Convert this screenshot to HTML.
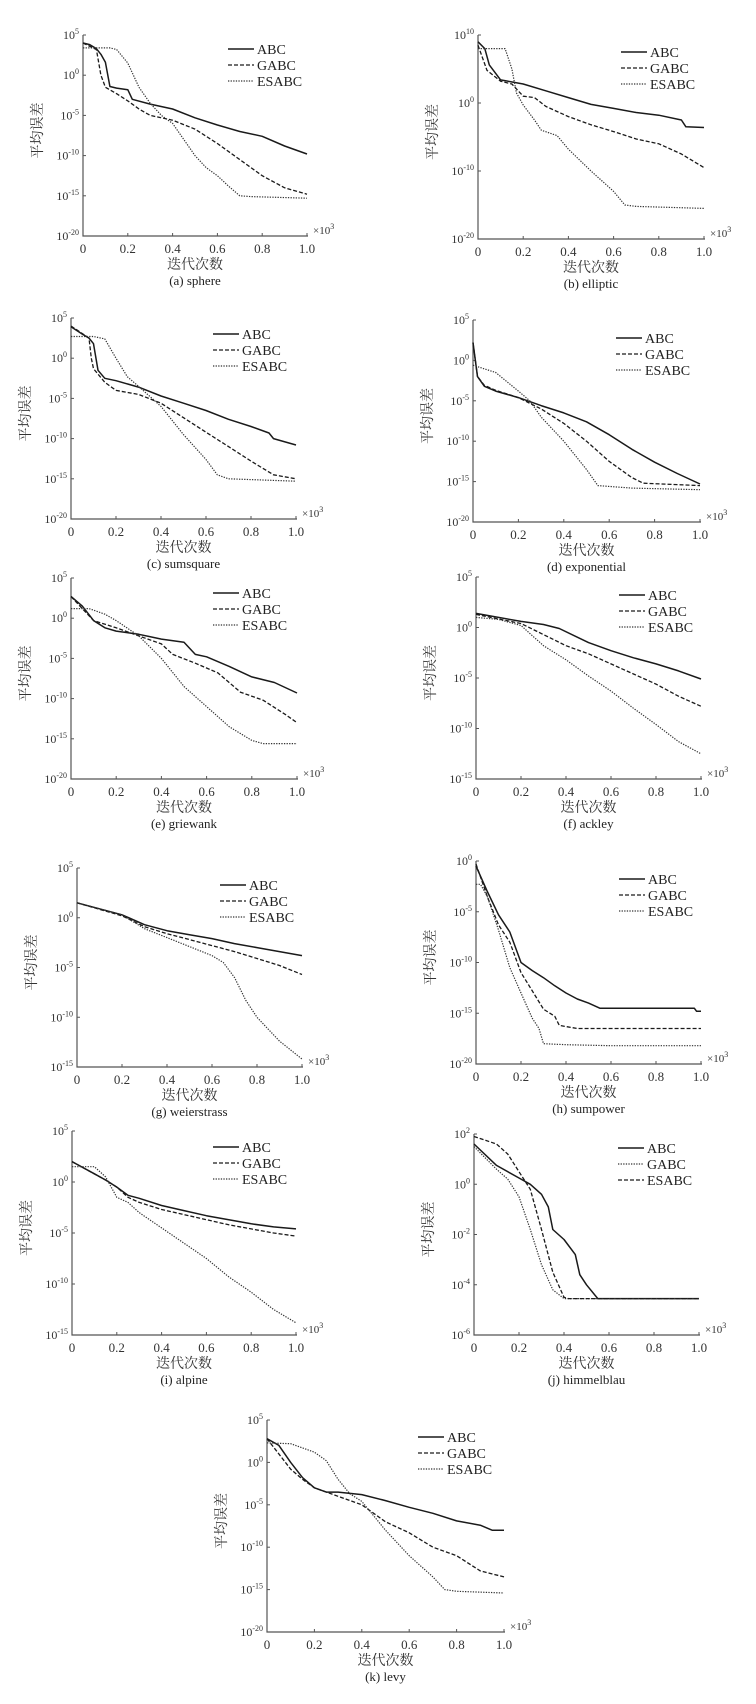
<!DOCTYPE html>
<html><head><meta charset="utf-8">
<style>
html,body{margin:0;padding:0;background:#fff;}
svg{display:block;font-family:"Liberation Serif","Noto Serif CJK SC","Noto Sans CJK SC",serif;}
</style></head>
<body>
<svg id="fig" width="756" height="1704" viewBox="0 0 756 1704" xmlns="http://www.w3.org/2000/svg"></svg>
<script>
// Data: [iteration (x10^3), log10(mean error)]
const sphereABC=[[0,4],[0.03,3.8],[0.06,3.3],[0.08,2.6],[0.1,1.6],[0.12,-1.4],[0.15,-1.6],[0.2,-1.8],[0.22,-3],[0.3,-3.6],[0.4,-4.2],[0.5,-5.3],[0.6,-6.2],[0.7,-7],[0.8,-7.6],[0.9,-8.8],[0.95,-9.3],[1.0,-9.8]];
const sphereGABC=[[0,4],[0.06,3.2],[0.08,0],[0.1,-1.5],[0.15,-2.3],[0.2,-3.2],[0.25,-4.2],[0.3,-5],[0.4,-5.6],[0.5,-6.7],[0.6,-8.5],[0.7,-10.5],[0.8,-12.5],[0.9,-14],[1.0,-14.8]];
const sphereESABC=[[0,3.4],[0.12,3.4],[0.15,3.2],[0.2,1.5],[0.25,-1.5],[0.3,-3.5],[0.35,-5],[0.4,-6],[0.45,-8],[0.5,-10],[0.55,-11.5],[0.6,-12.5],[0.65,-13.8],[0.7,-15],[0.75,-15.1],[1.0,-15.3]];

const ellipticABC=[[0,9],[0.03,8],[0.05,5.6],[0.1,3.4],[0.2,2.8],[0.3,1.8],[0.4,0.8],[0.5,-0.2],[0.6,-0.8],[0.7,-1.4],[0.8,-1.8],[0.9,-2.5],[0.92,-3.5],[1.0,-3.6]];
const ellipticGABC=[[0,8.5],[0.04,4.8],[0.1,3.2],[0.15,2.8],[0.2,1.0],[0.25,0.8],[0.3,-0.5],[0.4,-2],[0.5,-3.2],[0.6,-4.2],[0.7,-5.3],[0.8,-6],[0.9,-7.5],[1.0,-9.5]];
const ellipticESABC=[[0,8],[0.12,8],[0.15,5],[0.17,1.5],[0.2,-0.3],[0.25,-2.5],[0.28,-4],[0.35,-4.8],[0.4,-6.8],[0.5,-10],[0.6,-13],[0.65,-15],[0.7,-15.2],[1.0,-15.5]];

const sumsquareABC=[[0,3.9],[0.05,3],[0.08,2.5],[0.1,1.8],[0.12,-1.5],[0.15,-2.5],[0.2,-2.8],[0.3,-3.6],[0.4,-4.7],[0.5,-5.6],[0.6,-6.5],[0.7,-7.6],[0.8,-8.5],[0.88,-9.3],[0.9,-10],[1.0,-10.8]];
const sumsquareGABC=[[0,4],[0.08,2.5],[0.09,0],[0.1,-1.3],[0.15,-3],[0.2,-4],[0.3,-4.5],[0.4,-5.6],[0.5,-7.4],[0.6,-9.2],[0.7,-11],[0.8,-12.8],[0.9,-14.5],[1.0,-15]];
const sumsquareESABC=[[0,2.7],[0.1,2.7],[0.15,2.4],[0.2,0],[0.25,-2.3],[0.3,-3.5],[0.4,-6],[0.5,-9.5],[0.6,-12.6],[0.65,-14.5],[0.7,-15],[1.0,-15.3]];

const exponentialABC=[[0,2.2],[0.02,-2],[0.05,-3.2],[0.1,-3.8],[0.2,-4.6],[0.3,-5.6],[0.4,-6.5],[0.5,-7.6],[0.6,-9.2],[0.7,-11],[0.8,-12.6],[0.9,-14],[1.0,-15.3]];
const exponentialGABC=[[0,2.2],[0.02,-2],[0.05,-3.1],[0.1,-3.7],[0.2,-4.6],[0.3,-6],[0.4,-7.8],[0.5,-10],[0.6,-12.5],[0.7,-14.5],[0.75,-15.2],[1.0,-15.5]];
const exponentialESABC=[[0,-0.6],[0.1,-1.5],[0.2,-3.8],[0.25,-5],[0.3,-7],[0.4,-10],[0.5,-13.5],[0.55,-15.5],[0.7,-15.8],[1.0,-16]];

const griewankABC=[[0,2.7],[0.05,1.5],[0.1,-0.3],[0.15,-1.2],[0.2,-1.6],[0.3,-2],[0.4,-2.6],[0.5,-3],[0.55,-4.5],[0.6,-4.8],[0.7,-6],[0.8,-7.3],[0.9,-8],[1.0,-9.3]];
const griewankGABC=[[0,2.7],[0.1,-0.3],[0.2,-1.2],[0.3,-2.2],[0.4,-3.2],[0.45,-4.5],[0.55,-5.6],[0.65,-6.8],[0.75,-9.2],[0.85,-10.2],[0.95,-12],[1.0,-13]];
const griewankESABC=[[0,1.2],[0.08,1.2],[0.15,0.5],[0.2,-0.3],[0.3,-2.2],[0.4,-5],[0.5,-8.5],[0.6,-11],[0.7,-13.5],[0.8,-15.2],[0.85,-15.6],[1.0,-15.6]];

const ackleyABC=[[0,1.4],[0.2,0.6],[0.3,0.3],[0.37,-0.1],[0.5,-1.5],[0.6,-2.3],[0.7,-3],[0.8,-3.6],[0.9,-4.3],[1.0,-5.1]];
const ackleyGABC=[[0,1.3],[0.2,0.4],[0.3,-0.7],[0.4,-1.8],[0.5,-2.6],[0.6,-3.6],[0.7,-4.6],[0.8,-5.6],[0.9,-6.8],[1.0,-7.8]];
const ackleyESABC=[[0,1.0],[0.1,0.8],[0.2,0.2],[0.3,-1.8],[0.4,-3.2],[0.5,-4.8],[0.6,-6.3],[0.7,-8],[0.8,-9.6],[0.9,-11.3],[1.0,-12.5]];

const weierstrassABC=[[0,1.5],[0.2,0.3],[0.3,-0.7],[0.4,-1.3],[0.5,-1.7],[0.6,-2.1],[0.7,-2.6],[0.8,-3],[0.9,-3.4],[1.0,-3.8]];
const weierstrassGABC=[[0,1.5],[0.2,0.2],[0.3,-0.9],[0.4,-1.6],[0.5,-2.2],[0.6,-2.8],[0.7,-3.4],[0.8,-4.1],[0.9,-4.8],[1.0,-5.7]];
const weierstrassESABC=[[0,1.5],[0.2,0.3],[0.3,-1.1],[0.4,-2],[0.5,-2.9],[0.6,-3.8],[0.65,-4.5],[0.7,-6],[0.75,-8.3],[0.8,-10],[0.9,-12.4],[1.0,-14.2]];

const sumpowerABC=[[0,-0.5],[0.05,-3],[0.1,-5.3],[0.15,-7],[0.2,-10],[0.25,-10.8],[0.3,-11.5],[0.35,-12.3],[0.4,-13],[0.45,-13.6],[0.5,-14],[0.55,-14.5],[0.97,-14.5],[0.98,-14.8],[1.0,-14.8]];
const sumpowerGABC=[[0,-0.3],[0.05,-3.5],[0.1,-6.3],[0.15,-8],[0.2,-11],[0.25,-12.8],[0.3,-14.6],[0.35,-15.3],[0.37,-16.2],[0.45,-16.5],[1.0,-16.5]];
const sumpowerESABC=[[0,-2.3],[0.02,-2.3],[0.05,-3.5],[0.1,-6.8],[0.15,-10.5],[0.2,-13],[0.25,-15.5],[0.28,-16.5],[0.3,-18],[0.4,-18.1],[0.6,-18.2],[1.0,-18.2]];

const alpineABC=[[0,2],[0.1,0.8],[0.15,0.2],[0.2,-0.5],[0.25,-1.3],[0.3,-1.6],[0.4,-2.3],[0.5,-2.8],[0.6,-3.3],[0.7,-3.7],[0.8,-4.1],[0.9,-4.4],[1.0,-4.6]];
const alpineGABC=[[0,2],[0.15,0.2],[0.2,-0.5],[0.25,-1.5],[0.3,-2],[0.4,-2.7],[0.5,-3.2],[0.6,-3.7],[0.7,-4.2],[0.8,-4.6],[0.9,-5],[1.0,-5.3]];
const alpineESABC=[[0,1.5],[0.1,1.5],[0.15,0.5],[0.2,-1.5],[0.25,-2],[0.3,-3],[0.4,-4.5],[0.5,-6],[0.6,-7.5],[0.7,-9.3],[0.8,-10.8],[0.9,-12.5],[1.0,-13.8]];

const himmelblauABC=[[0,1.6],[0.1,0.75],[0.2,0.25],[0.25,0],[0.3,-0.4],[0.33,-0.9],[0.35,-1.8],[0.4,-2.2],[0.45,-2.8],[0.47,-3.6],[0.5,-4],[0.55,-4.55],[1.0,-4.55]];
const himmelblauGABC=[[0,1.5],[0.1,0.6],[0.15,0.2],[0.2,-0.5],[0.25,-1.8],[0.3,-3.2],[0.35,-4.2],[0.4,-4.55],[1.0,-4.55]];
const himmelblauESABC=[[0,1.9],[0.1,1.6],[0.15,1.2],[0.2,0.5],[0.25,-0.2],[0.3,-1.8],[0.35,-3.5],[0.4,-4.5],[0.42,-4.55],[1.0,-4.55]];

const levyABC=[[0,2.8],[0.05,2],[0.1,0],[0.15,-1.8],[0.2,-3],[0.25,-3.5],[0.3,-3.5],[0.4,-3.8],[0.5,-4.5],[0.6,-5.3],[0.7,-6],[0.8,-6.9],[0.9,-7.4],[0.95,-8],[1.0,-8]];
const levyGABC=[[0,2.8],[0.1,-0.8],[0.15,-2],[0.2,-3],[0.3,-4],[0.4,-5],[0.5,-7],[0.6,-8.3],[0.7,-10],[0.8,-11],[0.9,-12.8],[1.0,-13.5]];
const levyESABC=[[0,2.3],[0.1,2.2],[0.2,1.2],[0.25,0.2],[0.3,-2],[0.35,-3.7],[0.4,-4.6],[0.5,-8],[0.6,-11],[0.7,-13.5],[0.75,-15],[0.8,-15.2],[1.0,-15.4]];

const xTickLabels=["0","0.2","0.4","0.6","0.8","1.0"];
const seriesNames=["ABC","GABC","ESABC"];

// Layout (pixel positions)
const panels=[
 {id:"a",cap:"(a) sphere",s:[sphereABC,sphereGABC,sphereESABC],x0:83,x1:307,yT:35,yB:236,eT:5,eB:-20,st:5,lx:228,ly:49},
 {id:"b",cap:"(b) elliptic",s:[ellipticABC,ellipticGABC,ellipticESABC],x0:478,x1:704,yT:35,yB:239,eT:10,eB:-20,st:10,lx:621,ly:52},
 {id:"c",cap:"(c) sumsquare",s:[sumsquareABC,sumsquareGABC,sumsquareESABC],x0:71,x1:296,yT:318,yB:519,eT:5,eB:-20,st:5,lx:213,ly:334},
 {id:"d",cap:"(d) exponential",s:[exponentialABC,exponentialGABC,exponentialESABC],x0:473,x1:700,yT:320,yB:522,eT:5,eB:-20,st:5,lx:616,ly:338},
 {id:"e",cap:"(e) griewank",s:[griewankABC,griewankGABC,griewankESABC],x0:71,x1:297,yT:578,yB:779,eT:5,eB:-20,st:5,lx:213,ly:593},
 {id:"f",cap:"(f) ackley",s:[ackleyABC,ackleyGABC,ackleyESABC],x0:476,x1:701,yT:577,yB:779,eT:5,eB:-15,st:5,lx:619,ly:595},
 {id:"g",cap:"(g) weierstrass",s:[weierstrassABC,weierstrassGABC,weierstrassESABC],x0:77,x1:302,yT:868,yB:1067,eT:5,eB:-15,st:5,lx:220,ly:885},
 {id:"h",cap:"(h) sumpower",s:[sumpowerABC,sumpowerGABC,sumpowerESABC],x0:476,x1:701,yT:861,yB:1064,eT:0,eB:-20,st:5,lx:619,ly:879},
 {id:"i",cap:"(i) alpine",s:[alpineABC,alpineGABC,alpineESABC],x0:72,x1:296,yT:1131,yB:1335,eT:5,eB:-15,st:5,lx:213,ly:1147},
 {id:"j",cap:"(j) himmelblau",s:[himmelblauABC,himmelblauGABC,himmelblauESABC],x0:474,x1:699,yT:1134,yB:1335,eT:2,eB:-6,st:2,lx:618,ly:1148,sw:true},
 {id:"k",cap:"(k) levy",s:[levyABC,levyGABC,levyESABC],x0:267,x1:504,yT:1420,yB:1632,eT:5,eB:-20,st:5,lx:418,ly:1437}
];
const NS="http://www.w3.org/2000/svg";
const svg=document.getElementById("fig");
function mk(tag,attrs,parent){const e=document.createElementNS(NS,tag);for(const k in attrs)e.setAttribute(k,attrs[k]);(parent||svg).appendChild(e);return e;}
const styles={solid:{dash:"",w:1.5,c:"#1a1a1a"},dash:{dash:"4,2",w:1.3,c:"#1a1a1a"},dot:{dash:"1.3,1.3",w:1.2,c:"#333"}};

panels.forEach(p=>{
  const g=mk("g",{});
  
  
  const X=v=>p.x0+v*(p.x1-p.x0);
  const Y=e=>p.yT+(p.eT-e)/(p.eT-p.eB)*(p.yB-p.yT);
  // axes
  const ax=mk("path",{d:`M${p.x0},${p.yT}V${p.yB}H${p.x1+1}`,fill:"none",stroke:"#555","stroke-width":1.2},g);
  
  
  // y ticks
  for(let e=p.eT;e>=p.eB;e-=p.st){
    const y=Y(e);
    mk("line",{x1:p.x0,x2:p.x0+3,y1:y,y2:y,stroke:"#555","stroke-width":1},g);
    const t=mk("text",{x:p.x0-4,y:y+4,"text-anchor":"end","font-size":12,fill:"#333"},g);
    
    
    t.textContent="10";
    const sp=mk("tspan",{dy:-5,"font-size":8},t);
    sp.textContent=String(e).replace("-","-");
  }
  // x ticks
  xTickLabels.forEach((lab,i)=>{
    const x=X(i/5);
    mk("line",{x1:x,x2:x,y1:p.yB,y2:p.yB-3,stroke:"#555","stroke-width":1},g);
    const t=mk("text",{x:x,y:p.yB+17,"text-anchor":"middle","font-size":13,fill:"#333"},g);
    
    
    t.textContent=lab;
  });
  const mult=mk("text",{x:p.x1+6,y:p.yB-2,"font-size":11,fill:"#333"},g);
  
  
  mult.textContent="×10";
  const ms=mk("tspan",{dy:-5,"font-size":8},mult);ms.textContent="3";
  const xl=mk("text",{x:(p.x0+p.x1)/2,y:p.yB+33,"text-anchor":"middle","font-size":14,fill:"#333"},g);
  
  
  xl.textContent="迭代次数";
  const cp=mk("text",{x:(p.x0+p.x1)/2,y:p.yB+49,"text-anchor":"middle","font-size":13,fill:"#222"},g);
  
  
  cp.textContent=p.cap;
  const ycx=p.x0-46, ycy=(p.yT+p.yB)/2-5;
  const yl=mk("text",{x:ycx,y:ycy,"text-anchor":"middle","font-size":14,fill:"#333",transform:`rotate(-90 ${ycx} ${ycy})`,dy:5},g);
  
  
  yl.textContent="平均误差";
  // series
  const kinds=p.sw?["solid","dot","dash"]:["solid","dash","dot"];
  p.s.forEach((ser,si)=>{
    const st=styles[kinds[si]];
    const d=ser.map((pt,i)=>(i?"L":"M")+X(pt[0]).toFixed(1)+","+Y(pt[1]).toFixed(1)).join("");
    const ln=mk("path",{d:d,fill:"none",stroke:st.c,"stroke-width":st.w,"stroke-dasharray":st.dash,"stroke-linejoin":"round"},g);
    
    
    const ly=p.ly+si*16;
    const ll=mk("line",{x1:p.lx,x2:p.lx+26,y1:ly,y2:ly,stroke:st.c,"stroke-width":st.w,"stroke-dasharray":st.dash},g);
    
    
    const lt=mk("text",{x:p.lx+29,y:ly+5,"font-size":14,fill:"#222"},g);
    
    
    lt.textContent=seriesNames[si];
  });
});
</script>
</body></html>
